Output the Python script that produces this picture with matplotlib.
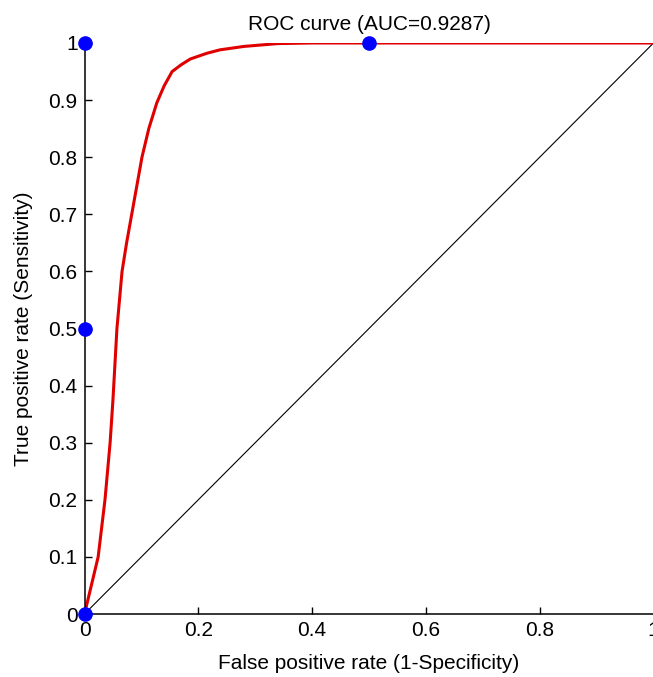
import matplotlib
matplotlib.use("Agg")
import matplotlib.pyplot as plt

# ROC curve
fpr = [0.0, 0.012, 0.024, 0.036, 0.045, 0.050, 0.057, 0.066, 0.074, 0.083,
       0.092, 0.101, 0.113, 0.127, 0.140, 0.154, 0.170, 0.186, 0.215, 0.238,
       0.280, 0.340, 0.400, 1.0]
tpr = [0.0, 0.05, 0.10, 0.20, 0.30, 0.375, 0.50, 0.60, 0.65, 0.70,
       0.75, 0.80, 0.85, 0.895, 0.925, 0.950, 0.962, 0.972, 0.982, 0.988,
       0.994, 0.999, 1.0, 1.0]

# highlighted threshold points
pts_x = [0.0, 0.0, 0.0, 0.5]
pts_y = [0.0, 0.5, 1.0, 1.0]

diag_x = [0.0, 1.0]
diag_y = [0.0, 1.0]

xticks = [0, 0.2, 0.4, 0.6, 0.8, 1]
xticklabels = ["0", "0.2", "0.4", "0.6", "0.8", "1"]
yticks = [0, 0.1, 0.2, 0.3, 0.4, 0.5, 0.6, 0.7, 0.8, 0.9, 1]
yticklabels = ["0", "0.1", "0.2", "0.3", "0.4", "0.5", "0.6", "0.7", "0.8", "0.9", "1"]

title = "ROC curve (AUC=0.9287)"
xlabel = "False positive rate (1-Specificity)"
ylabel = "True positive rate (Sensitivity)"

plt.rcParams['font.family'] = ['Liberation Sans', 'DejaVu Sans']
W, H = 653, 677
fig = plt.figure(figsize=(W / 100, H / 100), dpi=100)
left, right, top, bottom = 84.5, 653.5, 43, 614
ax = fig.add_axes([left / W, (H - bottom) / H, (right - left) / W, (bottom - top) / H])

ax.plot(diag_x, diag_y, color='black', lw=0.8)
ax.plot(fpr, tpr, color='#e00000', lw=2.2, solid_capstyle='round')
ax.plot(pts_x, pts_y, 'o', color='#0000ff', markersize=9.5, clip_on=False, zorder=5)

ax.set_xlim(0, 1)
ax.set_ylim(0, 1)
ax.set_xticks(xticks)
ax.set_xticklabels(xticklabels)
ax.set_yticks(yticks)
ax.set_yticklabels(yticklabels)
ax.spines['top'].set_visible(False)
ax.spines['right'].set_visible(False)
for s in ('left', 'bottom'):
    ax.spines[s].set_linewidth(1.1)
fs = 15
ax.tick_params(direction='in', length=5, width=1.0, labelsize=fs, pad=5)
ax.set_title(title, fontsize=fs, pad=9)
ax.set_xlabel(xlabel, fontsize=fs, labelpad=10)
ax.set_ylabel(ylabel, fontsize=fs, labelpad=11)

fig.savefig("out.png", dpi=100)
